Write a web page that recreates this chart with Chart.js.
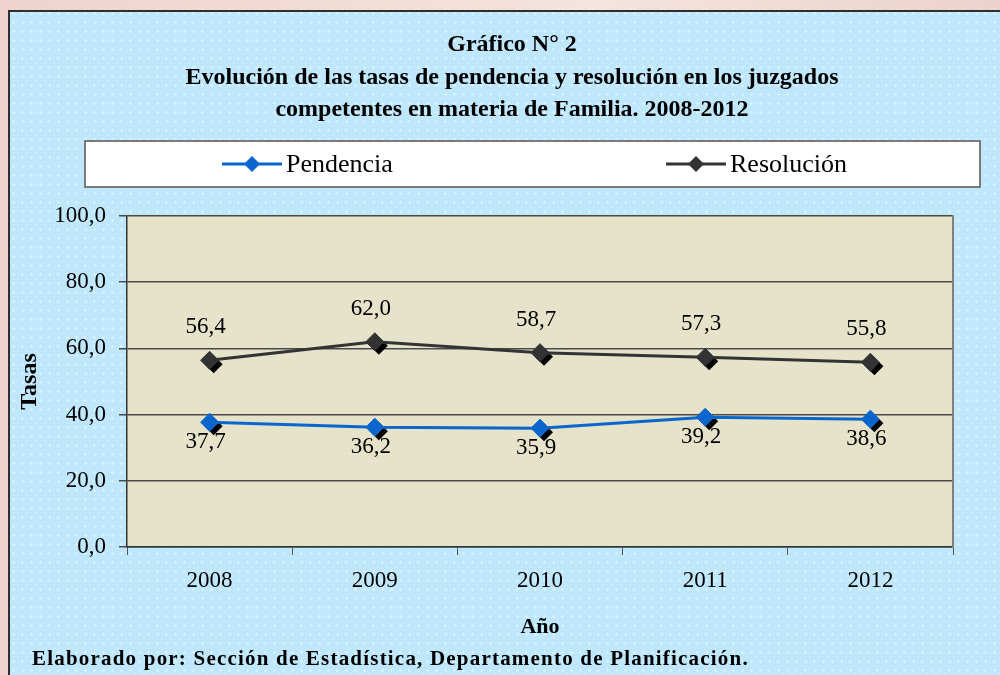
<!DOCTYPE html>
<html>
<head>
<meta charset="utf-8">
<script src="https://cdn.jsdelivr.net/npm/chart.js@4/dist/chart.umd.min.js"></script>
<style>
html,body{margin:0;padding:0;background:#fff;}
canvas{display:block;}
</style>
</head>
<body>
<canvas id="c" width="1000" height="675"></canvas>
<script>
const years = ['2008', '2009', '2010', '2011', '2012'];
const pendencia = [37.7, 36.2, 35.9, 39.2, 38.6];
const resolucion = [56.4, 62.0, 58.7, 57.3, 55.8];
const seriesNames = ['Pendencia', 'Resolución'];
const titleLines = ['Gráfico N° 2', 'Evolución de las tasas de pendencia y resolución en los juzgados', 'competentes en materia de Familia. 2008-2012'];
const yAxisTitle = 'Tasas';
const xAxisTitle = 'Año';
const footerText = 'Elaborado por: Sección de Estadística, Departamento de Planificación.';

const SERIF = "'Times New Roman', 'Liberation Serif', serif";
const fmt = v => Number(v).toFixed(1).replace('.', ',');

function makePattern(ctx, size, base, check, dotColor) {
  const c = document.createElement('canvas');
  c.width = size; c.height = size;
  const g = c.getContext('2d');
  g.fillStyle = base; g.fillRect(0, 0, size, size);
  g.fillStyle = check;
  for (let y = 0; y < size; y++) for (let x = 0; x < size; x++) if ((x + y) % 2 === 0) g.fillRect(x, y, 1, 1);
  if (dotColor) {
    g.fillStyle = dotColor;
    g.fillRect(4, 3, 1, 3); g.fillRect(3, 4, 3, 1);
  }
  return ctx.createPattern(c, 'repeat');
}

function diamond(ctx, x, y, r) {
  ctx.beginPath();
  ctx.moveTo(x, y - r); ctx.lineTo(x + r, y); ctx.lineTo(x, y + r); ctx.lineTo(x - r, y);
  ctx.closePath(); ctx.fill();
}

const backgroundPlugin = {
  id: 'bgPlugin',
  beforeDraw(chart) {
    const ctx = chart.ctx, W = chart.width, H = chart.height;
    ctx.save();
    const grd = ctx.createLinearGradient(0, 0, W, 0);
    grd.addColorStop(0, '#efd3cc'); grd.addColorStop(0.6, '#f6e3dd'); grd.addColorStop(1, '#ecd2cc');
    ctx.fillStyle = grd; ctx.fillRect(0, 0, W, H);
    ctx.fillStyle = makePattern(ctx, 9, '#b9e3fb', '#c6ebfe', '#d8f3ff');
    ctx.fillRect(9, 11, W - 9, H - 11);
    ctx.strokeStyle = '#2f2f2f'; ctx.lineWidth = 2;
    ctx.beginPath(); ctx.moveTo(9, H); ctx.lineTo(9, 11); ctx.lineTo(W, 11); ctx.stroke();
    const a = chart.chartArea;
    ctx.fillStyle = makePattern(ctx, 4, '#e1dec2', '#eae8d3', null);
    ctx.fillRect(a.left, a.top, a.right - a.left, a.bottom - a.top);
    ctx.restore();
  },
  beforeDatasetsDraw(chart) {
    const ctx = chart.ctx;
    ctx.save();
    ctx.fillStyle = '#000';
    chart.data.datasets.forEach((ds, i) => {
      chart.getDatasetMeta(i).data.forEach(p => diamond(ctx, p.x + 4, p.y + 4, 9));
    });
    ctx.restore();
  },
  afterDatasetsDraw(chart) {
    const ctx = chart.ctx;
    ctx.save();
    ctx.font = '23px ' + SERIF;
    ctx.fillStyle = '#000';
    ctx.textAlign = 'center';
    ctx.textBaseline = 'middle';
    chart.data.datasets.forEach((ds, i) => {
      chart.getDatasetMeta(i).data.forEach((p, j) => {
        ctx.fillText(fmt(ds.data[j]), p.x - 4, p.y + ds.labelOffset);
      });
    });
    ctx.restore();
  },
  afterDraw(chart) {
    const ctx = chart.ctx;
    ctx.save();
    // legend box
    ctx.fillStyle = '#ffffff';
    ctx.fillRect(85, 141, 895, 46);
    ctx.strokeStyle = '#7a7a7a'; ctx.lineWidth = 2;
    ctx.strokeRect(85, 141, 895, 46);
    const starts = [222, 666];
    ctx.font = '26px ' + SERIF;
    ctx.textBaseline = 'middle';
    ctx.textAlign = 'left';
    chart.data.datasets.forEach((ds, i) => {
      const x0 = starts[i], cy = 164;
      ctx.strokeStyle = ds.borderColor; ctx.lineWidth = 3;
      ctx.beginPath(); ctx.moveTo(x0, cy); ctx.lineTo(x0 + 60, cy); ctx.stroke();
      ctx.fillStyle = ds.borderColor;
      diamond(ctx, x0 + 30, cy, 8);
      ctx.fillStyle = '#000';
      ctx.fillText(ds.label, x0 + 64, cy + 1);
    });
    // footer
    ctx.font = 'bold 21px ' + SERIF;
    if ('letterSpacing' in ctx) ctx.letterSpacing = '1.2px';
    ctx.fillStyle = '#000';
    ctx.fillText(footerText, 32, 660);
    ctx.restore();
  }
};

new Chart(document.getElementById('c'), {
  type: 'line',
  data: {
    labels: years,
    datasets: [
      { label: seriesNames[0], data: pendencia, borderColor: '#0a66cc', backgroundColor: '#0a66cc',
        pointBackgroundColor: '#0a66cc', pointBorderColor: '#0a66cc', labelOffset: 20 },
      { label: seriesNames[1], data: resolucion, borderColor: '#333333', backgroundColor: '#333333',
        pointBackgroundColor: '#333333', pointBorderColor: '#333333', labelOffset: -33 }
    ]
  },
  options: {
    responsive: false,
    devicePixelRatio: 1,
    animation: false,
    layout: { padding: { left: 24, right: 0, top: 14, bottom: 30 } },
    elements: {
      line: { borderWidth: 3, tension: 0 },
      point: { pointStyle: 'rectRot', radius: 9, borderWidth: 1, hoverRadius: 9 }
    },
    plugins: {
      legend: { display: false },
      tooltip: { enabled: false },
      title: {
        display: true,
        text: titleLines,
        color: '#000',
        font: { family: SERIF, size: 24, weight: 'bold', lineHeight: 1.354 },
        padding: { top: 15, bottom: 89.5 }
      }
    },
    scales: {
      x: {
        offset: true,
        grid: { display: true, drawOnChartArea: false, drawTicks: true, tickLength: 8, color: '#555', offset: true },
        border: { display: true, color: '#333', width: 1.5 },
        ticks: { color: '#000', font: { family: SERIF, size: 23 }, padding: 12 },
        title: { display: true, text: xAxisTitle, color: '#000', font: { family: SERIF, size: 22, weight: 'bold' }, padding: { top: 0, bottom: 4 } },
        afterFit(s) { s.height = 98; }
      },
      y: {
        min: 0, max: 100,
        ticks: { stepSize: 20, color: '#000', font: { family: SERIF, size: 23 }, padding: 13, callback: v => fmt(v) },
        grid: { color: '#4a4a4a', lineWidth: 1.5, drawTicks: true, tickLength: 8 },
        border: { display: true, color: '#333', width: 1.5 },
        title: { display: true, text: yAxisTitle, color: '#000', font: { family: SERIF, size: 24, weight: 'bold' }, padding: { top: -9, bottom: 0 } },
        afterFit(s) { s.width = 103; }
      },
      yR: {
        position: 'right', min: 0, max: 100,
        grid: { display: false, drawTicks: false },
        ticks: { display: false },
        border: { display: true, color: '#808080', width: 2 },
        afterFit(s) { s.width = 47; }
      }
    }
  },
  plugins: [backgroundPlugin]
});
</script>
</body>
</html>
